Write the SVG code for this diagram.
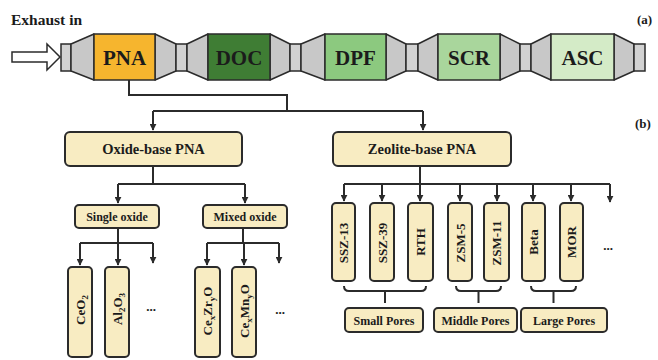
<svg xmlns="http://www.w3.org/2000/svg" width="658" height="360" viewBox="0 0 658 360" font-family="'Liberation Serif', 'DejaVu Serif', serif" font-weight="bold">
<style>
text{font-family:'Liberation Serif','DejaVu Serif',serif;font-weight:bold;fill:#1b1b1b}
.cone{fill:#c8c8c8;stroke:#2b2b2b;stroke-width:1.5;stroke-linejoin:round}
.cap{fill:#d2d2d2;stroke:#2b2b2b;stroke-width:1.5}
.unit{stroke:#2b2b2b;stroke-width:1.5}
.ut{font-size:21px;text-anchor:middle}
.box{fill:#f8ecc2;stroke:#2b2b2b;stroke-width:2}
.big{font-size:14.5px;text-anchor:middle}
.mid{font-size:12px;text-anchor:middle}
.vt{font-size:13px;text-anchor:middle}
.sub{font-size:9px}
.conn{fill:none;stroke:#2b2b2b;stroke-width:2}
.dots{font-size:13px;text-anchor:middle}
</style>
<defs>
<marker id="ah" viewBox="0 0 10 10" refX="9" refY="5" markerWidth="7" markerHeight="7" markerUnits="userSpaceOnUse" orient="auto">
<path d="M0,0 L10,5 L0,10 Z" fill="#2b2b2b"/>
</marker>
</defs>
<rect width="658" height="360" fill="#ffffff"/>

<text x="11" y="25" style="font-size:15.5px">Exhaust in</text>
<text x="637" y="24" style="font-size:13px">(a)</text>
<text x="635" y="128" style="font-size:13px">(b)</text>

<g id="inlet-arrow">
<path d="M12,52 H47 V44 L60,57 L47,70 V62 H12 Z" fill="#ffffff" stroke="#2b2b2b" stroke-width="1.5" stroke-linejoin="miter"/>
</g>

<g id="pipe">
<rect class="cap" x="61" y="44" width="10" height="27"/>
<path class="cone" d="M71,44 L94,34 L94,80 L71,71 Z"/>
<path class="cone" d="M155,34 L176,44 L176,71 L155,80 Z"/>
<rect class="cap" x="176" y="44" width="11" height="27"/>
<path class="cone" d="M187,44 L208,34 L208,80 L187,71 Z"/>
<path class="cone" d="M270,34 L290,44 L290,71 L270,80 Z"/>
<rect class="cap" x="290" y="44" width="11" height="27"/>
<path class="cone" d="M301,44 L325,34 L325,80 L301,71 Z"/>
<path class="cone" d="M386,34 L406,44 L406,71 L386,80 Z"/>
<rect class="cap" x="406" y="44" width="12" height="27"/>
<path class="cone" d="M418,44 L438,34 L438,80 L418,71 Z"/>
<path class="cone" d="M500,34 L520,44 L520,71 L500,80 Z"/>
<rect class="cap" x="520" y="44" width="11" height="27"/>
<path class="cone" d="M531,44 L551,34 L551,80 L531,71 Z"/>
<path class="cone" d="M614,34 L634,44 L634,71 L614,80 Z"/>
<rect class="cap" x="634" y="44" width="11" height="27"/>
</g>

<g id="PNA"><rect class="unit" x="94" y="34" width="61" height="46" fill="#f6b52e"/><text class="ut" x="124.5" y="64.5">PNA</text></g>
<g id="DOC"><rect class="unit" x="208" y="34" width="62" height="46" fill="#3f7d34"/><text class="ut" x="239" y="64.5">DOC</text></g>
<g id="DPF"><rect class="unit" x="325" y="34" width="61" height="46" fill="#8cc97f"/><text class="ut" x="355.5" y="64.5">DPF</text></g>
<g id="SCR"><rect class="unit" x="438" y="34" width="62" height="46" fill="#a9d69c"/><text class="ut" x="469" y="64.5">SCR</text></g>
<g id="ASC"><rect class="unit" x="551" y="34" width="63" height="46" fill="#d4ebc7"/><text class="ut" x="582.5" y="64.5">ASC</text></g>

<g id="connectors">
<path class="conn" d="M129,80 V95 H287 V111"/>
<path class="conn" d="M153,111 H423"/>
<path class="conn" d="M153,111 V130" marker-end="url(#ah)"/>
<path class="conn" d="M423,111 V130" marker-end="url(#ah)"/>
<path class="conn" d="M153,166 V184"/>
<path class="conn" d="M118,184 H245"/>
<path class="conn" d="M118,184 V203" marker-end="url(#ah)"/>
<path class="conn" d="M245,184 V203" marker-end="url(#ah)"/>
<path class="conn" d="M118,228 V243"/>
<path class="conn" d="M80,243 H153"/>
<path class="conn" d="M80,243 V265" marker-end="url(#ah)"/>
<path class="conn" d="M118,243 V265" marker-end="url(#ah)"/>
<path class="conn" d="M153,243 V263" marker-end="url(#ah)"/>
<path class="conn" d="M243,228 V243"/>
<path class="conn" d="M207,243 H279"/>
<path class="conn" d="M207,243 V265" marker-end="url(#ah)"/>
<path class="conn" d="M244,243 V265" marker-end="url(#ah)"/>
<path class="conn" d="M279,243 V263" marker-end="url(#ah)"/>
<path class="conn" d="M420,166 V184"/>
<path class="conn" d="M344,184 H610"/>
<path class="conn" d="M344,184 V201" marker-end="url(#ah)"/>
<path class="conn" d="M382,184 V201" marker-end="url(#ah)"/>
<path class="conn" d="M420,184 V201" marker-end="url(#ah)"/>
<path class="conn" d="M460,184 V201" marker-end="url(#ah)"/>
<path class="conn" d="M497,184 V201" marker-end="url(#ah)"/>
<path class="conn" d="M533,184 V201" marker-end="url(#ah)"/>
<path class="conn" d="M571,184 V201" marker-end="url(#ah)"/>
<path class="conn" d="M610,184 V202" marker-end="url(#ah)"/>
<path class="conn" d="M344,286 Q344,291 349,291 H421 Q426,291 426,286 M385,291 V303"/>
<path class="conn" d="M456,286 Q456,291 461,291 H496 Q501,291 501,286 M478.5,291 V303"/>
<path class="conn" d="M531,286 Q531,291 536,291 H571 Q576,291 576,286 M553.5,291 V303"/>
</g>

<g id="oxide-base"><rect class="box" x="65" y="132" width="177" height="34" rx="5"/><text class="big" x="153.5" y="154">Oxide-base PNA</text></g>
<g id="zeolite-base"><rect class="box" x="333" y="132" width="178" height="34" rx="5"/><text class="big" x="422" y="154">Zeolite-base PNA</text></g>
<g id="single-oxide"><rect class="box" x="75" y="205" width="84" height="23" rx="4"/><text class="mid" x="117" y="221">Single oxide</text></g>
<g id="mixed-oxide"><rect class="box" x="203" y="205" width="84" height="23" rx="4"/><text class="mid" x="245" y="221">Mixed oxide</text></g>

<g id="CeO2"><rect class="box" x="68" y="267" width="24" height="90" rx="4"/><text class="vt" transform="translate(80,310) rotate(-90)" y="4.5">CeO<tspan class="sub" dy="3">2</tspan></text></g>
<g id="Al2O3"><rect class="box" x="105" y="267" width="24" height="90" rx="4"/><text class="vt" transform="translate(117,309) rotate(-90)" y="4.5">Al<tspan class="sub" dy="3">2</tspan><tspan dy="-3">O</tspan><tspan class="sub" dy="3">3</tspan></text></g>
<text class="dots" x="151" y="311">...</text>
<g id="CexZryO"><rect class="box" x="195" y="267" width="25" height="90" rx="4"/><text class="vt" transform="translate(207.5,311) rotate(-90)" y="4.5">Ce<tspan class="sub" dy="3">x</tspan><tspan dy="-3">Zr</tspan><tspan class="sub" dy="3">y</tspan><tspan dy="-3">O</tspan></text></g>
<g id="CexMnyO"><rect class="box" x="232" y="267" width="24" height="90" rx="4"/><text class="vt" transform="translate(244,311) rotate(-90)" y="4.5">Ce<tspan class="sub" dy="3">x</tspan><tspan dy="-3">Mn</tspan><tspan class="sub" dy="3">y</tspan><tspan dy="-3">O</tspan></text></g>
<text class="dots" x="280" y="314">...</text>

<g id="SSZ-13"><rect class="box" x="332" y="203" width="23" height="78" rx="4"/><text class="vt" transform="translate(343.5,243) rotate(-90)" y="4.5">SSZ-13</text></g>
<g id="SSZ-39"><rect class="box" x="370" y="203" width="24" height="78" rx="4"/><text class="vt" transform="translate(382,243) rotate(-90)" y="4.5">SSZ-39</text></g>
<g id="RTH"><rect class="box" x="408" y="203" width="25" height="78" rx="4"/><text class="vt" transform="translate(420.5,242) rotate(-90)" y="4.5">RTH</text></g>
<g id="ZSM-5"><rect class="box" x="448" y="203" width="24" height="78" rx="4"/><text class="vt" transform="translate(460,243) rotate(-90)" y="4.5">ZSM-5</text></g>
<g id="ZSM-11"><rect class="box" x="484" y="203" width="25" height="78" rx="4"/><text class="vt" transform="translate(496.5,243) rotate(-90)" y="4.5">ZSM-11</text></g>
<g id="Beta"><rect class="box" x="522" y="203" width="23" height="78" rx="4"/><text class="vt" transform="translate(533.5,242) rotate(-90)" y="4.5">Beta</text></g>
<g id="MOR"><rect class="box" x="560" y="203" width="23" height="78" rx="4"/><text class="vt" transform="translate(571.5,242) rotate(-90)" y="4.5">MOR</text></g>
<text class="dots" x="608" y="250">...</text>

<g id="small-pores"><rect class="box" x="345" y="308" width="78" height="24" rx="4"/><text class="mid" x="384" y="324.5">Small Pores</text></g>
<g id="middle-pores"><rect class="box" x="434" y="308" width="83" height="24" rx="4"/><text class="mid" x="475.5" y="324.5">Middle Pores</text></g>
<g id="large-pores"><rect class="box" x="521" y="308" width="86" height="24" rx="4"/><text class="mid" x="564" y="324.5">Large Pores</text></g>
</svg>
